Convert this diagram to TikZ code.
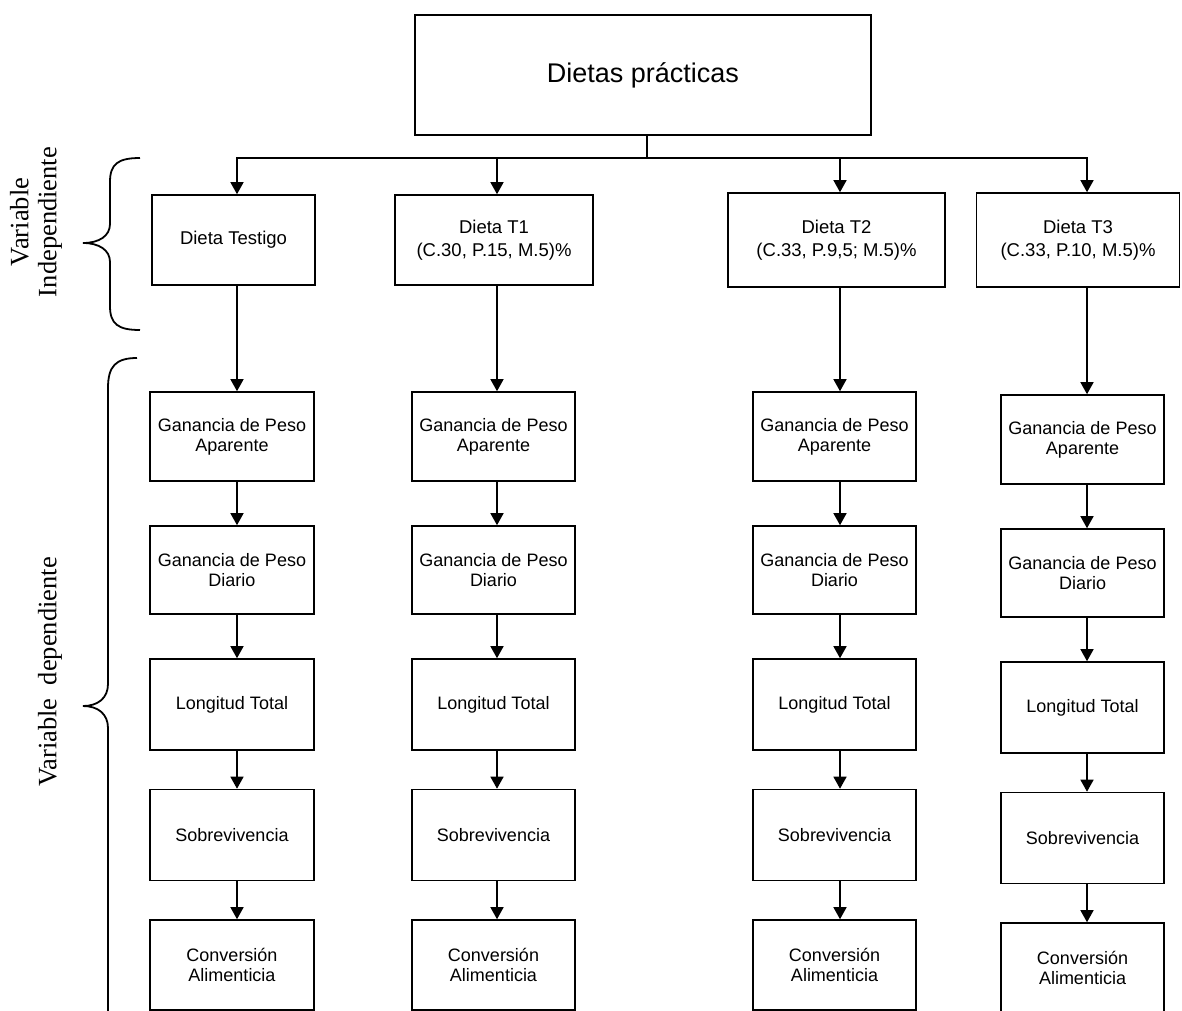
\documentclass[tikz,border=0pt]{standalone}
\usepackage{fontspec}
\setmainfont{Liberation Sans}
\newfontfamily\lblfont{Liberation Serif}
\usetikzlibrary{arrows.meta}
\begin{document}
\begin{tikzpicture}[x=1pt,y=-1pt,
  box/.style={draw, line width=1.6pt, inner sep=0pt, align=center, font=\fontsize{18}{20}\selectfont},
  dbox/.style={font=\fontsize{18.5}{23}\selectfont, minimum height=90pt},
  arr/.style={line width=1.4pt, -{Triangle[width=13pt,length=12pt]}},
  ln/.style={line width=1.4pt, line cap=rect},
  brace/.style={line width=1.8pt},
  lbl/.style={rotate=90, align=center, font=\lblfont\fontsize{26.5}{28}\selectfont}]
\useasboundingbox (0,0) rectangle (1182,1010);
\clip (0,0) rectangle (1182,1010);

% top box
\node[box, font=\fontsize{27}{30}\selectfont, minimum width=456pt, minimum height=120pt] (top) at (643,75) {Dietas prácticas};

% diet boxes
\node[box, dbox, minimum width=163pt] (d1) at (233.5,240) {Dieta Testigo};
\node[box, dbox, minimum width=198pt] (d2) at (494,240) {Dieta T1\\(C.30, P.15, M.5)\%};
\node[box, dbox, minimum width=217pt, minimum height=94pt] (d3) at (836.5,240) {Dieta T2\\(C.33, P.9,5; M.5)\%};
\node[box, dbox, minimum width=203pt, minimum height=94pt] (d4) at (1078,240) {Dieta T3\\(C.33, P.10, M.5)\%};

% dependent variable boxes
\foreach \c/\x/\w/\dy in {1/232/164/0, 2/493.5/163/0, 3/834.5/163/0, 4/1082.5/163/3}{
  \node[box, minimum width=\w pt, minimum height=89pt] (g\c) at (\x,436.5+\dy) {Ganancia de Peso\\Aparente};
  \node[box, minimum width=\w pt, minimum height=88pt] (p\c) at (\x,570+\dy) {Ganancia de Peso\\Diario};
  \node[box, minimum width=\w pt, minimum height=91pt] (l\c) at (\x,704.5+\dy) {Longitud Total};
  \node[box, minimum width=\w pt, minimum height=91pt] (s\c) at (\x,835+\dy) {Sobrevivencia};
  \node[box, minimum width=\w pt, minimum height=90pt] (v\c) at (\x,965+\dy) {Conversión\\Alimenticia};
}

% connectors
\coordinate (hub) at (647,158);
\foreach \c/\ax in {1/237, 2/497, 3/840, 4/1087}{
  \coordinate (k\c) at (\ax,158);
}
\draw[ln] (top.south -| hub) -- (hub);
\draw[ln] (k1) -- (k4);
\foreach \c in {1,...,4}{
  \draw[arr] (k\c) -- (k\c |- d\c.north);
  \draw[arr] (k\c |- d\c.south) -- (k\c |- g\c.north);
  \draw[arr] (k\c |- g\c.south) -- (k\c |- p\c.north);
  \draw[arr] (k\c |- p\c.south) -- (k\c |- l\c.north);
  \draw[arr] (k\c |- l\c.south) -- (k\c |- s\c.north);
  \draw[arr] (k\c |- s\c.south) -- (k\c |- v\c.north);
}

% braces
\draw[brace] (140,158) .. controls (118,158) and (110,164) .. (110,182)
  -- (110,224) .. controls (110,236) and (99,243) .. (83,243)
  .. controls (99,243) and (110,250) .. (110,262)
  -- (110,306) .. controls (110,324) and (118,330) .. (140,330);
\draw[brace] (137,358) .. controls (116,358) and (108,366) .. (108,388)
  -- (108,684) .. controls (108,698) and (98,706) .. (83,706)
  .. controls (98,706) and (108,714) .. (108,728)
  -- (108,1030);

% labels
\node[lbl] (vi) at (36,222) {Variable\\Independiente};
\node[lbl] (vd) at (50,672) {Variable\hspace{0.5em}dependiente};
\end{tikzpicture}
\end{document}
